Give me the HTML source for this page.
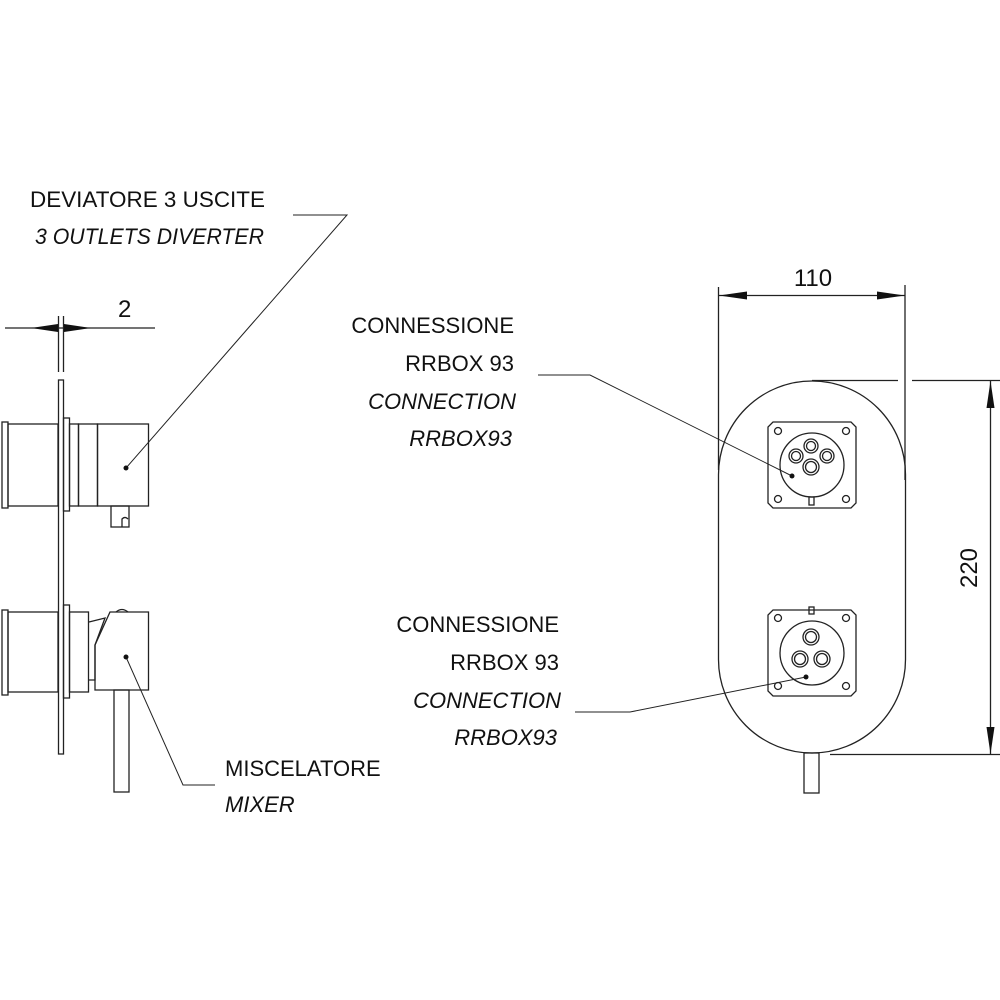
<!DOCTYPE html>
<html><head><meta charset="utf-8"><style>
html,body{margin:0;padding:0;background:#fff;}
svg{display:block;}
text{font-family:"Liberation Sans",sans-serif;font-size:22px;fill:#111;}
.i{font-style:italic;}
.d{font-size:24px;}
</style></head><body>
<svg width="1000" height="1000" viewBox="0 0 1000 1000" xmlns="http://www.w3.org/2000/svg">
<g fill="none" stroke="#222" stroke-width="1.3">
<line x1="5" y1="328" x2="155" y2="328"/>
<line x1="58.5" y1="316" x2="58.5" y2="372"/>
<line x1="63.5" y1="316" x2="63.5" y2="372"/>
<rect x="58.5" y="380" width="5" height="374"/>
<rect x="2" y="422" width="6" height="86"/>
<rect x="8" y="424" width="50" height="82"/>
<rect x="63.5" y="418" width="6" height="93"/>
<rect x="69.5" y="424" width="9" height="82"/>
<rect x="78.5" y="424" width="19" height="82"/>
<rect x="97.5" y="424" width="51" height="82"/>
<rect x="111" y="506" width="18" height="21"/>
<path d="M122 527 V519 Q125 516 128 519"/>
<rect x="2" y="610" width="6" height="85"/>
<rect x="8" y="612" width="50" height="80"/>
<rect x="63.5" y="605" width="6" height="93"/>
<rect x="69.5" y="612" width="19" height="80"/>
<path d="M89 622 L105 618 L95 645 L95 680 L89 680"/>
<path d="M110 612 L148.5 612 L148.5 690 L95 690 L95 645 Z"/>
<path d="M116 612 Q122 607 128 612"/>
<rect x="114" y="690" width="15" height="102"/>
<rect x="718.5" y="381" width="187" height="372" rx="93.5" ry="93.5"/>
<rect x="804" y="753" width="15" height="40"/>
<line x1="718.5" y1="287" x2="718.5" y2="470"/>
<line x1="905" y1="285" x2="905" y2="480"/>
<line x1="718.5" y1="295.5" x2="905" y2="295.5"/>
<line x1="812" y1="380.5" x2="898" y2="380.5"/>
<line x1="912" y1="380.5" x2="1000" y2="380.5"/>
<line x1="830" y1="754.5" x2="1000" y2="754.5"/>
<line x1="990.5" y1="381" x2="990.5" y2="754"/>
<path d="M773 422 H851 L856 427 V503 L851 508 H773 L768 503 V427 Z"/>
<circle cx="812" cy="465" r="32"/>
<circle cx="778" cy="431" r="3.5"/><circle cx="846" cy="431" r="3.5"/>
<circle cx="778" cy="499" r="3.5"/><circle cx="846" cy="499" r="3.5"/>
<circle cx="811" cy="446" r="7"/><circle cx="811" cy="446" r="4.5"/>
<circle cx="796" cy="456" r="7"/><circle cx="796" cy="456" r="4.5"/>
<circle cx="827" cy="456" r="7"/><circle cx="827" cy="456" r="4.5"/>
<circle cx="811" cy="467" r="8"/><circle cx="811" cy="467" r="5.5"/>
<rect x="809" y="497" width="5" height="8"/>
<path d="M773 610 H851 L856 615 V691 L851 696 H773 L768 691 V615 Z"/>
<circle cx="812" cy="653" r="32"/>
<circle cx="778" cy="618" r="3.5"/><circle cx="846" cy="618" r="3.5"/>
<circle cx="778" cy="686" r="3.5"/><circle cx="846" cy="686" r="3.5"/>
<circle cx="811" cy="637" r="8"/><circle cx="811" cy="637" r="5.5"/>
<circle cx="800" cy="659" r="8"/><circle cx="800" cy="659" r="5.5"/>
<circle cx="822" cy="659" r="8"/><circle cx="822" cy="659" r="5.5"/>
<rect x="809" y="607" width="5" height="7"/>
<polyline points="293,215 347,215 126,468" stroke-width="1"/>
<polyline points="126,657 183,785 215,785" stroke-width="1"/>
<polyline points="538,375 590,375 792,476" stroke-width="1"/>
<polyline points="575,712 630,712 806,677" stroke-width="1"/>
</g>
<g fill="#111">
<circle cx="126" cy="468" r="2.5"/><circle cx="126" cy="657" r="2.5"/>
<circle cx="792" cy="476" r="2.5"/><circle cx="806" cy="677" r="2.5"/>
<polygon points="31,328 58,324 58,332"/><polygon points="91,328 64,324 64,332"/>
<polygon points="719,295.5 747,291.5 747,299.5"/><polygon points="905,295.5 877,291.5 877,299.5"/>
<polygon points="990.5,381 986.5,408 994.5,408"/><polygon points="990.5,754 986.5,727 994.5,727"/>
</g>
<text x="30" y="207" textLength="235" lengthAdjust="spacingAndGlyphs">DEVIATORE 3 USCITE</text>
<text class="i" x="35" y="244" textLength="229" lengthAdjust="spacingAndGlyphs">3 OUTLETS DIVERTER</text>
<text class="d" x="118" y="317">2</text>
<text class="d" x="813" y="286" text-anchor="middle">110</text>
<text class="d" transform="translate(977,568) rotate(-90)" text-anchor="middle">220</text>
<g text-anchor="end">
<text x="514" y="333">CONNESSIONE</text>
<text x="514" y="371">RRBOX 93</text>
<text class="i" x="516" y="409">CONNECTION</text>
<text class="i" x="512" y="446">RRBOX93</text>
<text x="559" y="632">CONNESSIONE</text>
<text x="559" y="670">RRBOX 93</text>
<text class="i" x="561" y="708">CONNECTION</text>
<text class="i" x="557" y="745">RRBOX93</text>
</g>
<text x="225" y="776">MISCELATORE</text>
<text class="i" x="225" y="812">MIXER</text>
</svg>
</body></html>
